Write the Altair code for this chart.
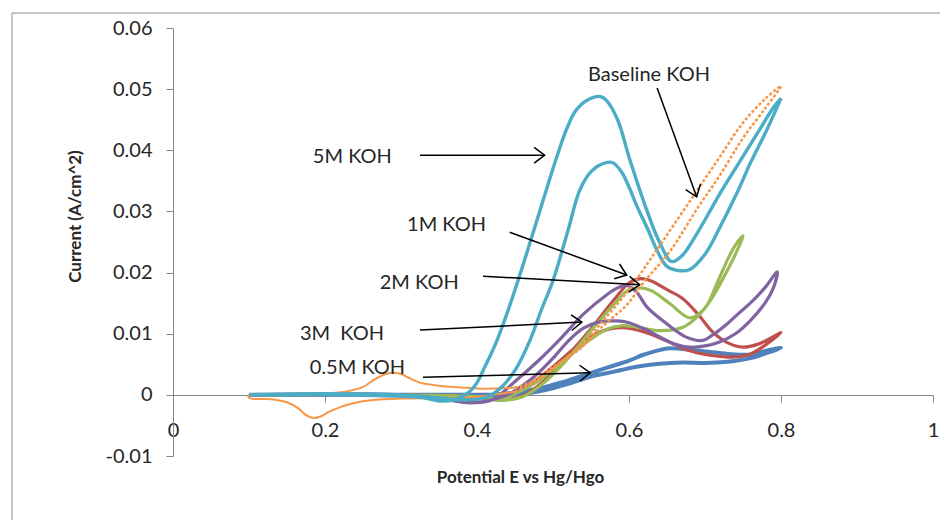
import math
import altair as alt
import pandas as pd

# ---------------- data ----------------
# 5M KOH (teal)
m5_fwd_E = [0.10, 0.20, 0.30, 0.35, 0.38, 0.41, 0.43, 0.45, 0.47, 0.485, 0.50, 0.52, 0.535, 0.55, 0.565, 0.578,
            0.59, 0.60, 0.61, 0.625, 0.637, 0.65, 0.667, 0.68, 0.70, 0.72, 0.742, 0.76, 0.78, 0.80]
m5_fwd_I = [0, 0.0002, 0, -0.0005, -0.0008, -0.0005, 0.001, 0.004, 0.009, 0.014, 0.0187, 0.027, 0.0334, 0.0365,
            0.0378, 0.038, 0.0365, 0.034, 0.031, 0.027, 0.0236, 0.021, 0.0203, 0.0205, 0.023, 0.0275, 0.033,
            0.038, 0.043, 0.0485]
m5_rev_E = [0.80, 0.79, 0.77, 0.75, 0.72, 0.69, 0.67, 0.656, 0.64, 0.624, 0.601, 0.585, 0.57, 0.562, 0.545,
            0.53, 0.518, 0.50, 0.485, 0.47, 0.454, 0.44, 0.425, 0.41, 0.40, 0.39, 0.37, 0.35, 0.33, 0.30, 0.20, 0.10]
m5_rev_I = [0.0485, 0.047, 0.043, 0.039, 0.033, 0.0265, 0.0228, 0.0218, 0.025, 0.030, 0.0385, 0.045,
            0.0482, 0.0488, 0.0482, 0.0465, 0.0435, 0.037, 0.031, 0.025, 0.0187, 0.0135, 0.0085, 0.0045, 0.002,
            0.0005, -0.0008, -0.001, -0.0005, -0.0002, 0, 0]

# Baseline KOH (orange): low-potential loop (solid) and high-potential loop (dotted)
base_low_E = [0.45, 0.42, 0.40, 0.35, 0.30, 0.26, 0.24, 0.22, 0.205, 0.195, 0.185, 0.175, 0.165, 0.15, 0.13, 0.10,
              0.10, 0.15, 0.20, 0.23, 0.25, 0.265, 0.28, 0.29, 0.30, 0.31, 0.325, 0.35, 0.38, 0.41, 0.45]
base_low_I = [0.0005, 0, -0.0003, -0.0005, -0.0006, -0.0009, -0.0013, -0.002, -0.0028, -0.0035, -0.0038, -0.0033,
              -0.0022, -0.0012, -0.0007, -0.0005,
              0, 0, 0.0002, 0.0006, 0.0013, 0.0025, 0.0034, 0.0036, 0.0034, 0.0028, 0.002, 0.0015, 0.0012, 0.001,
              0.0012]
base_high_E = [0.45, 0.47, 0.50, 0.535, 0.566, 0.597, 0.62, 0.654, 0.69, 0.72, 0.75, 0.78, 0.80,
               0.78, 0.75, 0.72, 0.69, 0.66, 0.63, 0.60, 0.57, 0.54, 0.51, 0.48, 0.45]
base_high_I = [0.0012, 0.002, 0.0045, 0.0075, 0.0113, 0.0147, 0.0185, 0.0235, 0.0305, 0.036, 0.042, 0.047, 0.0505,
               0.0485, 0.0445, 0.039, 0.0335, 0.028, 0.0225, 0.0172, 0.0127, 0.0085, 0.0052, 0.0025, 0.0005]

# 1M KOH (red)
m1_E = [0.10, 0.30, 0.40, 0.43, 0.46, 0.49, 0.52, 0.55, 0.58, 0.60, 0.615, 0.63, 0.65, 0.67, 0.69, 0.71, 0.73, 0.75,
        0.77, 0.79, 0.80,
        0.78, 0.76, 0.74, 0.72, 0.70, 0.68, 0.65, 0.62, 0.59, 0.56, 0.53, 0.50, 0.47, 0.44, 0.42, 0.40, 0.30, 0.10]
m1_I = [0, 0, -0.0003, -0.0008, -0.0002, 0.0025, 0.0065, 0.0108, 0.0155, 0.0183, 0.019, 0.0186, 0.0172, 0.0158,
        0.0133, 0.0103, 0.0085, 0.0078, 0.0083, 0.0095, 0.0102,
        0.0082, 0.0067, 0.0062, 0.0063, 0.0066, 0.0072, 0.0088, 0.0103, 0.011, 0.0102, 0.0078, 0.0046, 0.0017, 0,
        -0.0007, -0.0005, 0, 0]

# 2M KOH (green)
m2_E = [0.10, 0.30, 0.40, 0.43, 0.46, 0.49, 0.52, 0.55, 0.58, 0.60, 0.615, 0.63, 0.654, 0.68, 0.70, 0.715, 0.73,
        0.74, 0.75,
        0.74, 0.73, 0.71, 0.69, 0.67, 0.64, 0.61, 0.59, 0.57, 0.54, 0.51, 0.48, 0.45, 0.43, 0.40, 0.30, 0.10]
m2_I = [0, 0, -0.0005, -0.0009, -0.0003, 0.0022, 0.006, 0.0105, 0.0148, 0.0172, 0.0175, 0.017, 0.0149, 0.0126,
        0.0142, 0.018, 0.0222, 0.0245, 0.026,
        0.023, 0.0205, 0.016, 0.0128, 0.011, 0.0105, 0.0111, 0.0113, 0.0107, 0.0082, 0.0052, 0.0022, 0.0002,
        -0.0006, -0.0003, 0, 0]

# 3M KOH (purple)
m3_E = [0.10, 0.30, 0.36, 0.39, 0.42, 0.45, 0.48, 0.51, 0.54, 0.57, 0.585, 0.597, 0.61, 0.624, 0.65, 0.676, 0.697,
        0.71, 0.729, 0.745, 0.763, 0.78, 0.795,
        0.79, 0.78, 0.76, 0.74, 0.72, 0.70, 0.68, 0.66, 0.64, 0.62, 0.60, 0.584, 0.56, 0.54, 0.52, 0.50, 0.48,
        0.46, 0.44, 0.42, 0.40, 0.37, 0.33, 0.10]
m3_I = [0, 0, -0.0008, -0.0013, -0.0008, 0.0022, 0.0055, 0.0092, 0.0132, 0.0163, 0.0175, 0.0179, 0.0168, 0.0143,
        0.0116, 0.0094, 0.0089, 0.0098, 0.0116, 0.0134, 0.0154, 0.0177, 0.0201,
        0.0175, 0.0152, 0.0122, 0.010, 0.0087, 0.008, 0.0078, 0.0083, 0.0095, 0.0108, 0.0118, 0.0121, 0.0119,
        0.0109, 0.0088, 0.006, 0.0035, 0.0015, 0, -0.0008, -0.0012, -0.001, -0.0003, 0]

# 0.5M KOH (blue)
m05_E = [0.10, 0.30, 0.42, 0.45, 0.49, 0.52, 0.55, 0.58, 0.61, 0.64, 0.67, 0.70, 0.73, 0.76, 0.78, 0.80,
         0.78, 0.76, 0.73, 0.70, 0.67, 0.65, 0.62, 0.60, 0.57, 0.54, 0.51, 0.48, 0.45, 0.42, 0.30, 0.10]
m05_I = [0, 0, 0, 0, 0.0008, 0.0018, 0.003, 0.0038, 0.0046, 0.0051, 0.0053, 0.0052, 0.0054, 0.006, 0.0068, 0.0077,
         0.0072, 0.0066, 0.0067, 0.0071, 0.0075, 0.0076, 0.0066, 0.0056, 0.0044, 0.0032, 0.002, 0.001, 0.0004, 0,
         0, 0]

# annotations: label, text anchor (E, I), arrow start (E, I), arrow end (E, I)
ann_text = ["5M KOH", "Baseline KOH", "1M KOH", "2M KOH", "3M\u00a0 KOH", "0.5M KOH"]
ann_tx = [0.184, 0.546, 0.308, 0.272, 0.167, 0.180]
ann_ty = [0.0389, 0.0523, 0.0278, 0.0183, 0.0100, 0.0044]
arr_x1 = [0.325, 0.637, 0.443, 0.408, 0.325, 0.329]
arr_y1 = [0.0392, 0.0502, 0.0266, 0.0194, 0.0106, 0.0029]
arr_x2 = [0.489, 0.689, 0.597, 0.614, 0.538, 0.549]
arr_y2 = [0.0392, 0.0324, 0.0196, 0.0180, 0.0119, 0.0036]

x_ticks = [0, 0.2, 0.4, 0.6, 0.8, 1.0]
y_ticks = [-0.01, 0, 0.01, 0.02, 0.03, 0.04, 0.05, 0.06]

# ---------------- build tables ----------------
series_names = ["0.5M KOH", "1M KOH", "2M KOH", "3M KOH", "Baseline low", "5M KOH", "Baseline high"]
series_colors = ["#4F81BD", "#C0504D", "#9BBB59", "#8064A2", "#F79646", "#4BACC6", "#F79646"]


def make_df(name, E, I):
    return pd.DataFrame({"series": name, "idx": range(len(E)), "E": E, "I": I})


dfs = {
    "0.5M KOH": make_df("0.5M KOH", m05_E, m05_I),
    "1M KOH": make_df("1M KOH", m1_E, m1_I),
    "2M KOH": make_df("2M KOH", m2_E, m2_I),
    "3M KOH": make_df("3M KOH", m3_E, m3_I),
    "Baseline low": make_df("Baseline low", base_low_E, base_low_I),
    "5M KOH": make_df("5M KOH", m5_fwd_E + m5_rev_E, m5_fwd_I + m5_rev_I),
    "Baseline high": make_df("Baseline high", base_high_E, base_high_I),
}

W, H = 760, 428
XD = [0, 1]
YD = [-0.01, 0.06]
xs = alt.Scale(domain=XD, nice=False, zero=False)
ys = alt.Scale(domain=YD, nice=False, zero=False)
cs = alt.Scale(domain=series_names, range=series_colors)

px_per_x = W / (XD[1] - XD[0])
px_per_y = H / (YD[1] - YD[0])
ann = pd.DataFrame({
    "text": ann_text, "tx": ann_tx, "ty": ann_ty,
    "x1": arr_x1, "y1": arr_y1, "x2": arr_x2, "y2": arr_y2,
})
ann["angle"] = [
    (math.degrees(math.atan2(-(b2 - b1) * px_per_y, (a2 - a1) * px_per_x)) + 360) % 360
    for a1, b1, a2, b2 in zip(arr_x1, arr_y1, arr_x2, arr_y2)
]

FONT = "Lato"
TXT = "#262626"
AX = "#868686"

x_axis = alt.Axis(
    values=x_ticks, format=".1~f", grid=False, offset=-61, tickSize=7, labelPadding=18, labelFlush=False,
    domainColor=AX, tickColor=AX, labelFont=FONT, labelFontSize=20, labelColor=TXT,
    title="Potential E vs Hg/Hgo", titleFont=FONT, titleFontSize=17, titleFontWeight="bold",
    titleColor=TXT, titleX=347, titleY=82, titleAlign="center", titleBaseline="middle",
)
y_axis = alt.Axis(
    values=y_ticks, labelExpr="replace(format(datum.value, '.2~f'), '\u2212', '-')", grid=False,
    tickSize=7, labelPadding=14, labelFlush=False, domainColor=AX, tickColor=AX, labelFont=FONT,
    labelFontSize=20, labelColor=TXT, title="Current (A/cm^2)", titleFont=FONT, titleFontSize=17,
    titleFontWeight="bold", titleColor=TXT, titleX=-98, titleY=188, titleBaseline="middle",
    titleAlign="center",
)

layers = []
border = alt.Chart(alt.Data(values=[{}])).mark_rect(fill="white", fillOpacity=0, stroke="#8c8c8c",
                                                    strokeWidth=1).encode(
    x=alt.value(-161), x2=alt.value(800), y=alt.value(-15), y2=alt.value(520))
layers.append(border)

widths = {"0.5M KOH": 4, "1M KOH": 3.2, "2M KOH": 3.2, "3M KOH": 3.2, "Baseline low": 2,
          "5M KOH": 3.4, "Baseline high": 2.5}
for name in series_names:
    kw = {}
    if name == "Baseline high":
        kw["strokeDash"] = [3, 2]
    ch = alt.Chart(dfs[name]).mark_line(strokeWidth=widths[name], interpolate="catmull-rom", **kw).encode(
        x=alt.X("E:Q", scale=xs, axis=x_axis),
        y=alt.Y("I:Q", scale=ys, axis=y_axis),
        color=alt.Color("series:N", scale=cs, legend=None),
        order="idx:Q",
    )
    layers.append(ch)

arrows = alt.Chart(ann).mark_rule(color="black", strokeWidth=1.5).encode(
    x=alt.X("x1:Q", scale=xs, axis=x_axis), y=alt.Y("y1:Q", scale=ys, axis=y_axis), x2="x2:Q", y2="y2:Q")
heads = alt.Chart(ann).mark_point(shape="M -1 -0.75 L 0 0 L -1 0.75", size=440, filled=False,
                                  stroke="black", strokeWidth=1.5, opacity=1).encode(
    x=alt.X("x2:Q", scale=xs, axis=x_axis), y=alt.Y("y2:Q", scale=ys, axis=y_axis),
    angle=alt.Angle("angle:Q", scale=None))
labels = alt.Chart(ann).mark_text(align="left", baseline="middle", font=FONT, fontSize=20,
                                  color=TXT).encode(
    x=alt.X("tx:Q", scale=xs, axis=x_axis), y=alt.Y("ty:Q", scale=ys, axis=y_axis), text="text:N")
layers += [arrows, heads, labels]

chart = alt.layer(*layers).properties(
    width=W, height=H, autosize="none",
    padding={"left": 173, "top": 28, "right": 7, "bottom": 64},
    background="white",
).configure_view(strokeWidth=0)

chart.save("out.html", embed_options={"renderer": "svg", "actions": False})
